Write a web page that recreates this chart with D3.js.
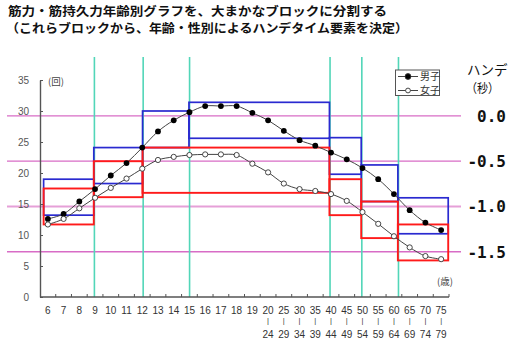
<!DOCTYPE html>
<html><head><meta charset="utf-8">
<script src="https://cdn.jsdelivr.net/npm/d3@7"></script>
<style>
html,body{margin:0;padding:0;background:#fff;}
svg{display:block;}
</style></head>
<body>
<svg id="c" width="512" height="343"></svg>
<script>
// ---- data ----
const titleLines = ["筋力・筋持久力年齢別グラフを、大まかなブロックに分割する",
                    "（これらブロックから、年齢・性別によるハンデタイム要素を決定）"];
const categories = ["6","7","8","9","10","11","12","13","14","15","16","17","18","19",
  "20-24","25-29","30-34","35-39","40-44","45-49","50-54","55-59","60-64","65-69","70-74","75-79"];
const boys  = [12.6,13.4,15.4,17.4,19.6,21.6,24.1,26.7,28.5,29.8,30.8,30.8,30.8,29.7,
               28.5,26.8,25.3,24.4,23.3,22.2,20.8,19.0,16.6,14.0,12.0,10.8];
const girls = [11.7,12.6,14.3,16.0,17.6,19.1,20.7,22.1,22.6,22.9,23.0,23.0,22.9,21.5,
               20.1,18.3,17.4,17.1,16.6,15.5,13.7,11.8,9.8,8.0,6.6,6.1];
const yTicks = [0,5,10,15,20,25,30,35];
const seriesNames = ["男子","女子"];
// block edges in category-index units (age groups: 6-9, 9-12, 12-15, 15-40, 40-50, 50-60, 60-75)
const blockEdges = [0.23, 3.42, 6.52, 9.47, 18.4, 20.42, 22.75, 25.95];
const blueLow  = [13.2,18.3,24.1,25.6,19.8,15.4,10.2];
const blueHigh = [19.0,24.1,30.0,31.4,25.7,21.3,16.0];
// red blocks: [startEdgeIndex, endEdgeIndex]
const redSpans = [[0,1],[1,2],[2,4],[4,5],[5,6],[6,7]];
const redLow  = [11.7,16.1,16.8,13.2,9.5,5.9];
const redHigh = [17.5,21.9,24.1,19.0,15.4,11.7];
const handeTicks = [0.0,-0.5,-1.0,-1.5];
const handeLabels = ["0.0","-0.5","-1.0","-1.5"];
const handeAt = [29.2,7.3]; // count values matching hande 0.0 and -1.5

// ---- layout ----
const svg = d3.select("#c");
const L = 40, R = 449, T = 80, B = 297;
const x = d3.scaleBand().domain(categories).range([L,R]).padding(0);
const xi = d3.scaleLinear().domain([0,categories.length]).range([L,R]);
const y = d3.scaleLinear().domain([0,35]).range([B,T]);
const h = d3.scaleLinear().domain([0,-1.5]).range([y(handeAt[0]), y(handeAt[1])]);
const cx = c => x(c) + x.bandwidth()/2;

svg.append("rect").attr("width",512).attr("height",343).attr("fill","#fff");

// title
const jp = "'Noto Sans CJK JP','Noto Sans CJK SC',sans-serif";
svg.selectAll("text.title").data(titleLines).join("text")
  .attr("class","title")
  .attr("x",(d,i)=> i===0?8:6).attr("y",(d,i)=> i===0?15.5:33)
  .attr("font-family",jp).attr("font-weight","bold").attr("font-size",12.2)
  .attr("textLength",(d,i)=> i===0?379:402).attr("lengthAdjust","spacingAndGlyphs")
  .attr("fill","#111").text(d=>d);

// hande (pink) lines
svg.selectAll("line.hande").data(handeTicks).join("line")
  .attr("x1",7).attr("x2",461)
  .attr("y1",d=>h(d)).attr("y2",d=>h(d))
  .attr("stroke",(d)=> d===-1.0?"#e6a0d8":"#d86cc6")
  .attr("stroke-width",(d)=> d===-1.0?2.2:1.3);

// teal vertical block separators
svg.selectAll("line.sep").data(blockEdges.slice(1,-1)).join("line")
  .attr("x1",d=>xi(d)+0.6).attr("x2",d=>xi(d)+0.6)
  .attr("y1",57).attr("y2",B)
  .attr("stroke","#52d6b8").attr("stroke-width",1.6);

// blue blocks
svg.selectAll("rect.blue").data(blueLow).join("rect")
  .attr("x",(d,i)=>xi(blockEdges[i]))
  .attr("width",(d,i)=>xi(blockEdges[i+1])-xi(blockEdges[i]))
  .attr("y",(d,i)=>y(blueHigh[i]))
  .attr("height",(d,i)=>y(blueLow[i])-y(blueHigh[i]))
  .attr("fill","none").attr("stroke","#2a2ad0").attr("stroke-width",1.7);

// red blocks
svg.selectAll("rect.red").data(redSpans).join("rect")
  .attr("x",d=>xi(blockEdges[d[0]]))
  .attr("width",d=>xi(blockEdges[d[1]])-xi(blockEdges[d[0]]))
  .attr("y",(d,i)=>y(redHigh[i]))
  .attr("height",(d,i)=>y(redLow[i])-y(redHigh[i]))
  .attr("fill","none").attr("stroke","#ff1a1a").attr("stroke-width",1.9);

// y axis
const yAxis = d3.axisLeft(y).tickValues(yTicks).tickSize(-3).tickSizeOuter(0).tickPadding(11);
const ga = svg.append("g").attr("transform",`translate(${L},0)`).call(yAxis);
ga.select(".domain").attr("stroke","#555").attr("stroke-width",1.4);
ga.selectAll(".tick line").attr("stroke","#555");
ga.selectAll(".tick text").attr("font-family","'Liberation Sans',Arial,sans-serif")
  .attr("font-size",10).attr("fill","#555");

// x axis
svg.append("line").attr("x1",L).attr("x2",R).attr("y1",B).attr("y2",B)
  .attr("stroke","#555").attr("stroke-width",1.4);
svg.selectAll("line.xt").data(d3.range(1,categories.length+1)).join("line")
  .attr("x1",d=>xi(d)).attr("x2",d=>xi(d)).attr("y1",B).attr("y2",B-3)
  .attr("stroke","#555");
const sans = "'Liberation Sans',Arial,sans-serif";
svg.selectAll("text.xl1").data(categories).join("text").attr("class","xl1")
  .attr("x",d=>cx(d)).attr("y",314)
  .attr("font-family",sans).attr("font-size",10).attr("fill","#333")
  .attr("text-anchor","middle").text(d=>d.split("-")[0]);
const grouped = categories.filter(c=>c.includes("-"));
svg.selectAll("text.xl2").data(grouped).join("text").attr("class","xl2")
  .attr("x",d=>cx(d)).attr("y",323)
  .attr("font-family",sans).attr("font-size",7.5).attr("fill","#333")
  .attr("text-anchor","middle").text("|");
svg.selectAll("text.xl3").data(grouped).join("text").attr("class","xl3")
  .attr("x",d=>cx(d)).attr("y",337.5)
  .attr("font-family",sans).attr("font-size",10).attr("fill","#333")
  .attr("text-anchor","middle").text(d=>d.split("-")[1]);

// unit labels
svg.append("text").attr("x",48).attr("y",84.5).attr("font-family",jp).attr("font-size",9.5)
  .attr("fill","#444").text("(回)");
svg.append("text").attr("x",437).attr("y",284.5).attr("font-family",jp).attr("font-size",9.5)
  .attr("fill","#444").text("(歳)");

// series lines
const line = d3.line().x((d,i)=>cx(categories[i])).y(d=>y(d)).curve(d3.curveCatmullRom);
[boys,girls].forEach(s=>{
  svg.append("path").attr("d",line(s)).attr("fill","none")
    .attr("stroke","#444").attr("stroke-width",1);
});
svg.selectAll("circle.b").data(boys).join("circle")
  .attr("cx",(d,i)=>cx(categories[i])).attr("cy",d=>y(d)).attr("r",2.9).attr("fill","#000");
svg.selectAll("circle.g").data(girls).join("circle")
  .attr("cx",(d,i)=>cx(categories[i])).attr("cy",d=>y(d)).attr("r",2.6)
  .attr("fill","#fff").attr("stroke","#333").attr("stroke-width",0.9);

// legend
const lg = svg.append("g");
lg.append("rect").attr("x",395.5).attr("y",70).attr("width",44).attr("height",25.5)
  .attr("fill","#fff").attr("stroke","#555").attr("stroke-width",1);
seriesNames.forEach((n,i)=>{
  const yy = 76.5 + i*14;
  lg.append("line").attr("x1",398).attr("x2",418).attr("y1",yy).attr("y2",yy)
    .attr("stroke","#444");
  lg.append("circle").attr("cx",408).attr("cy",yy).attr("r",i===0?2.9:2.4)
    .attr("fill",i===0?"#000":"#fff").attr("stroke","#333").attr("stroke-width",0.9);
  lg.append("text").attr("x",420).attr("y",yy+3.6).attr("font-family",jp)
    .attr("font-size",10).attr("fill","#333").text(n);
});

// right hande labels
svg.append("text").attr("x",467).attr("y",74.5).attr("font-family",jp).attr("font-size",13.5)
  .attr("fill","#111").text("ハンデ");
svg.append("text").attr("x",466).attr("y",93).attr("font-family",jp).attr("font-size",12.5)
  .attr("fill","#111").text("（秒）").attr("textLength",33).attr("lengthAdjust","spacingAndGlyphs");
svg.selectAll("text.hl").data(handeTicks).join("text")
  .attr("x",506).attr("y",d=>h(d)+6)
  .attr("text-anchor","end").attr("font-family","'DejaVu Sans Mono',monospace")
  .attr("font-size",16).attr("font-weight","bold").attr("fill","#111")
  .text((d,i)=>handeLabels[i]);
</script>
</body></html>
